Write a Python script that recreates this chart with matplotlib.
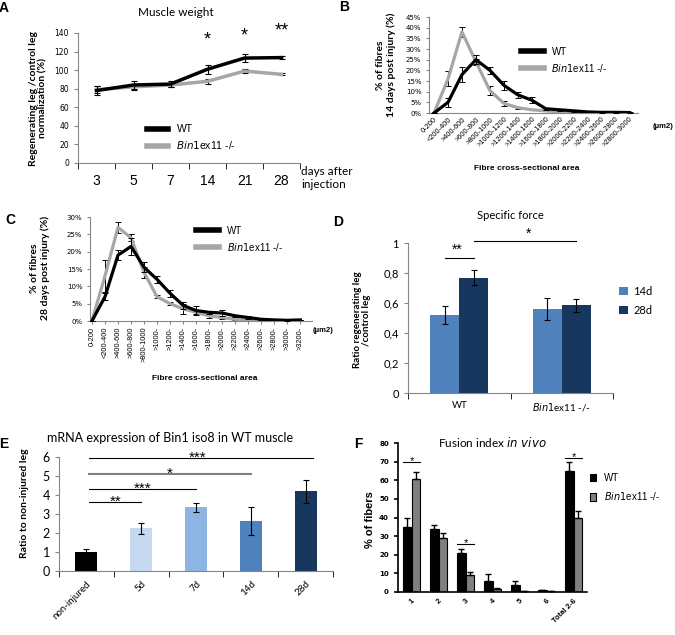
import numpy as np
import matplotlib.pyplot as plt
from matplotlib.ticker import FuncFormatter

W, H = 675, 635
CAL = 'Lato'
ARI = 'Liberation Sans'
GRID = '#868686'

# A - muscle weight
days = ['3', '5', '7', '14', '21', '28']
wt_weight = [78, 84, 85, 101, 113, 113.5]
wt_weight_err = [5, 4, 3, 5, 4.5, 1.5]
ko_weight = [79, 82, 84, 88, 99, 95.5]
ko_weight_err = [4, 3, 2, 3, 2, 1]

# B - 14 days fibre CSA
csa14 = ['0-200', '<200-400', '>400-600', '>600-800', '>800-1000', '>1000-1200',
         '>1200-1400', '>1400-1600', '>1600-1800', '>1800-2000', '>2000-2200',
         '>2200-2400', '>2400-2600', '>2600-2800', '>2800-3000']
wt14 = [0, 5, 18, 25, 20, 13, 8.5, 6, 2, 1.5, 1, 0.5, 0.3, 0.3, 0.2]
wt14_err = [0, 2, 3.5, 2, 1.5, 2, 1.5, 1.5, 0.5, 0.5, 0.3, 0.2, 0.1, 0.1, 0.1]
ko14 = [0, 16, 38, 24, 10.5, 4.5, 2.5, 1.5, 1, 0.5, 0.3, 0.2, 0.2, 0.1, 0.1]
ko14_err = [0, 3.5, 2.5, 1.5, 2, 1, 0.5, 0.3, 0.2, 0.1, 0.1, 0.1, 0.1, 0.1, 0.1]

# C - 28 days fibre CSA
csa28 = ['0-200', '<200-400', '>400-600', '>600-800', '>800-1000', '>1000-',
         '>1200-', '>1400-', '>1600-', '>1800-', '>2000-', '>2200-', '>2400-',
         '>2600-', '>2800-', '>3000-', '>3200-']
wt28 = [0, 7, 19, 21.5, 15.5, 12, 8, 4.5, 3, 2.5, 2.3, 1.5, 1, 0.5, 0.3, 0.2, 0.3]
wt28_err = [0, 1, 1.5, 2.5, 1.5, 1, 1, 1, 1.2, 0.5, 0.8, 0.3, 0.3, 0.2, 0.1, 0.1, 0.1]
ko28 = [0, 13, 27, 24, 14, 7, 5, 3.5, 2.5, 1.5, 1, 0.5, 0.3, 0.2, 0.2, 0.1, 0.2]
ko28_err = [0, 4.5, 1.5, 1, 1.5, 0.5, 0.5, 1.5, 0.5, 0.5, 0.3, 0.2, 0.1, 0.1, 0.1, 0.1, 0.1]

# D - specific force
genotypes = ['WT', 'Bin1ex11 -/-']
force14 = [0.52, 0.56]
force14_err = [0.06, 0.075]
force28 = [0.77, 0.585]
force28_err = [0.05, 0.045]

# E - mRNA expression
timepoints = ['non-injured', '5d', '7d', '14d', '28d']
mrna = [1.0, 2.25, 3.35, 2.62, 4.2]
mrna_err = [0.15, 0.3, 0.25, 0.75, 0.6]
mrna_colors = ['#000000', '#c6d9f1', '#8eb4e3', '#4f81bd', '#17375e']

# F - fusion index
nuclei = ['1', '2', '3', '4', '5', '6', 'Total 2-6']
wt_fusion = [35, 34, 21, 6, 3.5, 1, 65]
wt_fusion_err = [4.5, 2, 2, 3.5, 2.5, 0.3, 5]
ko_fusion = [60.5, 29, 9, 1.5, 0.5, 0.3, 39.5]
ko_fusion_err = [4, 2.5, 2, 0.5, 0.3, 0.1, 4]


fig = plt.figure(figsize=(W / 100, H / 100), dpi=100)


def px_axes(l, t, r, b):
    return fig.add_axes([l / W, 1 - b / H, (r - l) / W, (b - t) / H])


def ftext(x, y, s, **kw):
    fig.text(x / W, 1 - y / H, s, **kw)


def excel_style(ax, color=GRID, lw=0.8):
    for s in ['top', 'right']:
        ax.spines[s].set_visible(False)
    for s in ['left', 'bottom']:
        ax.spines[s].set_color(color)
        ax.spines[s].set_linewidth(lw)
    ax.tick_params(colors=color, length=3, width=lw, direction='out')


# ---------------- A
ax = px_axes(78, 33, 300, 163)
x = np.arange(len(days))
ax.errorbar(x, wt_weight, yerr=wt_weight_err, color='black', lw=2.5, ecolor='black',
            elinewidth=0.8, capsize=2.5, capthick=0.8, zorder=3)
ax.errorbar(x, ko_weight, yerr=ko_weight_err, color='#a6a6a6', lw=2.5, ecolor='black',
            elinewidth=0.8, capsize=2.5, capthick=0.8, zorder=2)
ax.set_xlim(-0.5, 5.5)
ax.set_ylim(0, 140)
ax.set_yticks(range(0, 141, 20))
ax.set_xticks(x)
ax.set_xticklabels(days, fontsize=10, family=ARI)
ax.set_xticks(np.arange(-0.5, 6, 1), minor=True)
excel_style(ax)
ax.tick_params(axis='x', which='major', length=0, pad=8, labelcolor='black')
ax.tick_params(axis='x', which='minor', length=4)
ax.tick_params(axis='y', labelsize=5.5, labelcolor='black')
ax.legend([plt.Line2D([], [], color='black', lw=4), plt.Line2D([], [], color='#a6a6a6', lw=4)],
          ['WT', r'$\it{Bin1}$ex11 -/-'], loc='upper left', bbox_to_anchor=(0.27, 0.37),
          frameon=False, handlelength=2.0, labelspacing=0.5,
          prop={'family': ARI, 'size': 7.5})
for xi, s, yy in [(3, '*', 40), (4, '*', 36), (5, '**', 31)]:
    ftext(78 + 37 * (xi + 0.5), yy, s, fontsize=13, ha='center', va='center', family=ARI)
ftext(176, 13, 'Muscle weight', fontsize=8.5, ha='center', va='center', family=CAL)
ftext(301, 178, 'days after\ninjection', fontsize=8.5, ha='left', va='center', family=CAL,
      linespacing=1.2)
ftext(38, 98, 'Regenerating leg /control leg\nnormalization (%)', fontsize=7.5,
      fontweight='bold', rotation=90, ha='center', va='center', family=CAL, linespacing=1.1)
ftext(4, 8, 'A', fontsize=10, fontweight='bold', ha='center', va='center', family=ARI)

pct = FuncFormatter(lambda v, p: '%d%%' % round(v))

# ---------------- B
ax = px_axes(429, 17, 638, 113)
x = np.arange(len(csa14))
ax.errorbar(x, wt14, yerr=wt14_err, color='black', lw=2.3, ecolor='black',
            elinewidth=0.7, capsize=2, capthick=0.7, zorder=3)
ax.errorbar(x, ko14, yerr=ko14_err, color='#a6a6a6', lw=2.3, ecolor='black',
            elinewidth=0.7, capsize=2, capthick=0.7, zorder=2)
ax.set_xlim(-0.36, 14.6)
ax.set_ylim(0, 45)
ax.set_yticks(range(0, 46, 5))
ax.yaxis.set_major_formatter(pct)
ax.set_xticks(x)
ax.set_xticklabels(csa14, rotation=45, ha='right', rotation_mode='anchor', fontsize=5.3,
                   family=ARI)
excel_style(ax)
ax.tick_params(axis='x', length=0, labelcolor='black', pad=2)
ax.tick_params(axis='y', labelsize=5, labelcolor='black', length=2)
ax.legend([plt.Line2D([], [], color='black', lw=4), plt.Line2D([], [], color='#a6a6a6', lw=4)],
          ['WT', r'$\it{Bin1}$ex11 -/-'], loc='upper left', bbox_to_anchor=(0.4, 0.78),
          frameon=False, handlelength=2.3, labelspacing=0.5, prop={'family': ARI, 'size': 7})
ftext(663, 127, '(µm2)', fontsize=5.5, fontweight='bold', ha='center', va='center', family=ARI)
ftext(527, 168, 'Fibre cross-sectional area', fontsize=6, fontweight='bold', ha='center',
      va='center', family=ARI)
ftext(386, 65, '% of fibres\n14 days post injury (%)', fontsize=7.5, fontweight='bold',
      rotation=90, ha='center', va='center', family=CAL, linespacing=1.1)
ftext(344, 7, 'B', fontsize=10, fontweight='bold', ha='center', va='center', family=ARI)

# ---------------- C
ax = px_axes(90, 217, 312, 321)
x = np.arange(len(csa28))
ax.errorbar(x, wt28, yerr=wt28_err, color='black', lw=2.3, ecolor='black',
            elinewidth=0.7, capsize=2, capthick=0.7, zorder=3)
ax.errorbar(x, ko28, yerr=ko28_err, color='#a6a6a6', lw=2.3, ecolor='black',
            elinewidth=0.7, capsize=2, capthick=0.7, zorder=2)
ax.set_xlim(-0.15, 16.9)
ax.set_ylim(0, 30)
ax.set_yticks(range(0, 31, 5))
ax.yaxis.set_major_formatter(pct)
ax.set_xticks(x)
ax.set_xticklabels(csa28, rotation=90, ha='center', va='top', fontsize=5.3, family=ARI)
excel_style(ax)
ax.tick_params(axis='x', length=2, labelcolor='black', pad=2)
ax.tick_params(axis='y', labelsize=5, labelcolor='black', length=2)
ax.legend([plt.Line2D([], [], color='black', lw=4), plt.Line2D([], [], color='#a6a6a6', lw=4)],
          ['WT', r'$\it{Bin1}$ex11 -/-'], loc='upper left', bbox_to_anchor=(0.44, 1.0),
          frameon=False, handlelength=2.3, labelspacing=0.5, prop={'family': ARI, 'size': 7})
ftext(323, 331, '(µm2)', fontsize=5.5, fontweight='bold', ha='center', va='center', family=ARI)
ftext(205, 378, 'Fibre cross-sectional area', fontsize=6, fontweight='bold', ha='center',
      va='center', family=ARI)
ftext(40, 268, '% of fibres\n28 days post injury (%)', fontsize=7.5, fontweight='bold',
      rotation=90, ha='center', va='center', family=CAL, linespacing=1.1)
ftext(10, 220, 'C', fontsize=10, fontweight='bold', ha='center', va='center', family=ARI)

# ---------------- D
ax = px_axes(408, 243, 613, 393)
x = np.arange(len(genotypes))
bw = 0.283
ax.bar(x - bw / 2, force14, bw, color='#4f81bd', label='14d', zorder=2)
ax.bar(x + bw / 2, force28, bw, color='#17375e', label='28d', zorder=2)
ax.errorbar(x - bw / 2, force14, yerr=force14_err, fmt='none', ecolor='black', elinewidth=0.8,
            capsize=2.5, capthick=0.8, zorder=3)
ax.errorbar(x + bw / 2, force28, yerr=force28_err, fmt='none', ecolor='black', elinewidth=0.8,
            capsize=2.5, capthick=0.8, zorder=3)
ax.set_xlim(-0.5, 1.5)
ax.set_ylim(0, 1)
ax.set_yticks(np.arange(0, 1.01, 0.2))
ax.yaxis.set_major_formatter(FuncFormatter(lambda v, p: ('%g' % round(v, 1)).replace('.', ',')))
ax.set_xticks(x)
ax.set_xticklabels(['WT', r'$\it{Bin1}$ex11 -/-'], fontsize=7, family=CAL)
ax.set_xticks([-0.5, 0.5, 1.5], minor=True)
excel_style(ax)
ax.tick_params(axis='x', which='major', length=0, labelcolor='black', pad=6)
ax.tick_params(axis='x', which='minor', length=4)
ax.tick_params(axis='y', labelsize=8, labelcolor='black')
for lbl in ax.get_yticklabels():
    lbl.set_family(CAL)
ax.plot([-bw / 2, bw / 2], [0.9, 0.9], color='black', lw=0.8, clip_on=False)
ax.plot([bw / 2, 1 + bw / 2], [1.01, 1.01], color='black', lw=0.8, clip_on=False)
ax.legend(loc='upper left', bbox_to_anchor=(0.98, 0.78), frameon=False, handlelength=0.8,
          handleheight=0.8, handletextpad=0.5, labelspacing=0.7, prop={'family': CAL, 'size': 8})
ftext(457, 250, '**', fontsize=10, ha='center', va='center', family=ARI)
ftext(529, 234, '*', fontsize=10, ha='center', va='center', family=ARI)
ftext(510, 215, 'Specific force', fontsize=8, ha='center', va='center', family=CAL)
ftext(362, 320, 'Ratio regenerating leg\n/control leg', fontsize=7, fontweight='bold',
      rotation=90, ha='center', va='center', family=CAL, linespacing=1.1)
ftext(338, 222, 'D', fontsize=10, fontweight='bold', ha='center', va='center', family=ARI)

# ---------------- E
ax = px_axes(59, 457, 333, 571)
x = np.arange(len(timepoints))
ax.bar(x, mrna, 0.4, color=mrna_colors, zorder=2)
ax.errorbar(x, mrna, yerr=mrna_err, fmt='none', ecolor='black', elinewidth=0.8,
            capsize=2.5, capthick=0.8, zorder=3)
ax.set_xlim(-0.5, 4.5)
ax.set_ylim(0, 6)
ax.set_yticks(range(0, 7))
ax.set_xticks(x)
ax.set_xticklabels(timepoints, rotation=45, ha='right', rotation_mode='anchor', fontsize=7,
                   family=CAL)
ax.set_xticks(np.arange(-0.5, 5, 1), minor=True)
excel_style(ax)
ax.tick_params(axis='x', which='major', length=0, labelcolor='black', pad=6)
ax.tick_params(axis='x', which='minor', length=4)
ax.tick_params(axis='y', labelsize=9, labelcolor='black')
for lbl in ax.get_yticklabels():
    lbl.set_family(CAL)
sig_e = [(1, 3.65, '**', 'black', 0.8), (2, 4.3, '***', 'black', 0.8),
         (3, 5.1, '*', '#808080', 1.5), (4, 5.95, '***', 'black', 0.8)]
for end, yv, s, c, lw in sig_e:
    x1 = end + (0.13 if end == 4 else 0)
    ax.plot([0.05, x1], [yv, yv], color=c, lw=lw, clip_on=False)
    ax.annotate(s, ((0.05 + end) / 2, yv), xytext=(0, -5), textcoords='offset points',
                fontsize=11, ha='center', va='bottom', family=ARI, annotation_clip=False)
ftext(170, 438, 'mRNA expression of Bin1 iso8 in WT muscle', fontsize=9, ha='center',
      va='center', family=CAL)
ftext(25, 503, 'Ratio to non-injured leg', fontsize=7.5, fontweight='bold', rotation=90,
      ha='center', va='center', family=CAL)
ftext(4, 444, 'E', fontsize=10, fontweight='bold', ha='center', va='center', family=ARI)

# ---------------- F
ax = px_axes(398, 443, 587, 592)
x = np.arange(len(nuclei))
bw = 0.32
ax.bar(x - bw / 2, wt_fusion, bw, color='black', edgecolor='black', lw=0.8, label='WT', zorder=2)
ax.bar(x + bw / 2, ko_fusion, bw, color='#808080', edgecolor='black', lw=0.8,
       label=r'$\it{Bin1}$ex11 -/-', zorder=2)
ax.errorbar(x - bw / 2, wt_fusion, yerr=[np.zeros(len(nuclei)), wt_fusion_err], fmt='none',
            ecolor='black', elinewidth=1, capsize=2.5, capthick=1, zorder=3)
ax.errorbar(x + bw / 2, ko_fusion, yerr=[np.zeros(len(nuclei)), ko_fusion_err], fmt='none',
            ecolor='black', elinewidth=1, capsize=2.5, capthick=1, zorder=3)
ax.set_xlim(-0.5, 6.5)
ax.set_ylim(0, 80)
ax.set_yticks(range(0, 81, 10))
ax.set_xticks(x)
ax.set_xticklabels(nuclei, rotation=45, ha='right', rotation_mode='anchor', fontsize=5.5,
                   family=ARI)
excel_style(ax, color='black', lw=1.2)
ax.tick_params(axis='x', length=0, pad=4)
ax.tick_params(axis='y', labelsize=5, length=3)
for lbl in ax.get_yticklabels() + ax.get_xticklabels():
    lbl.set_fontweight('bold')
for xi, yv in [(0, 70), (2, 26), (6, 72)]:
    ax.plot([xi - 0.3, xi + 0.3], [yv, yv], color='black', lw=0.8)
    ax.annotate('*', (xi, yv), xytext=(0, -3), textcoords='offset points', fontsize=8,
                ha='center', va='bottom', family=ARI)
ax.legend(loc='upper left', bbox_to_anchor=(0.97, 0.86), frameon=False, handlelength=0.6,
          handleheight=0.8, labelspacing=0.8, prop={'family': ARI, 'size': 7})
ftext(492, 442, r'Fusion index $\it{in\ vivo}$', fontsize=8.5, ha='center', va='center',
      family=CAL)
ftext(370, 520, '% of fibers', fontsize=8, fontweight='bold', rotation=90, ha='center',
      va='center', family=ARI)
ftext(358, 444, 'F', fontsize=10, fontweight='bold', ha='center', va='center', family=ARI)

fig.savefig('out.png', dpi=100)
